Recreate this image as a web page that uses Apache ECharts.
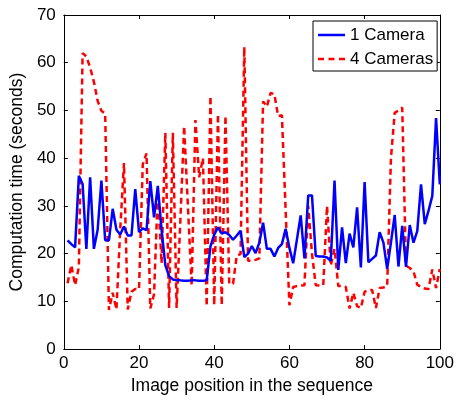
<!DOCTYPE html>
<html>
<head>
<meta charset="utf-8">
<script src="https://cdn.jsdelivr.net/npm/echarts@6/dist/echarts.min.js"></script>
<style>
  html, body { margin: 0; padding: 0; background: #fff; }
  #chart { width: 457px; height: 400px; }
</style>
</head>
<body>
<div id="chart"></div>
<script>
// image positions 1..100
const positions = Array.from({ length: 100 }, (_, i) => i + 1);

// computation time (s)
const oneCamera = [
  22.8, 22.0, 21.3, 36.3, 34.6, 21.0, 36.0, 21.0, 25.0, 35.3,
  22.8, 22.8, 29.4, 25.0, 24.0, 25.7, 23.8, 23.8, 33.5, 24.5,
  25.3, 24.9, 35.2, 27.6, 34.2, 25.0, 17.6, 15.3, 14.6, 14.4,
  14.4, 14.3, 14.3, 14.4, 14.4, 14.3, 14.3, 14.4, 21.5, 24.0,
  25.5, 24.2, 24.5, 23.9, 22.9, 23.8, 24.8, 19.3, 20.0, 21.6,
  20.1, 22.3, 26.5, 21.0, 21.0, 19.4, 21.2, 22.0, 25.2, 21.2,
  18.0, 23.0, 28.0, 19.0, 32.2, 32.2, 19.5, 19.4, 19.4, 19.2,
  18.5, 35.3, 16.6, 25.5, 18.0, 24.2, 21.3, 29.7, 17.1, 35.0,
  18.2, 18.9, 19.6, 24.5, 22.3, 16.8, 22.3, 28.1, 17.3, 25.8,
  17.2, 26.0, 22.3, 24.7, 34.5, 26.2, 29.0, 32.1, 48.4, 34.5
];

const fourCameras = [
  13.8, 17.6, 13.4, 17.2, 62.0, 61.3, 59.0, 56.0, 52.0, 49.9,
  49.4,  8.2, 11.8,  8.3, 25.0, 39.0,  8.3, 12.0, 12.6, 12.5,
  38.7, 41.0,  8.5, 11.5, 33.0, 18.0, 45.3,  8.6, 45.3,  8.6,
  27.0, 46.7, 30.0, 13.3, 48.0, 36.0, 40.0,  9.0, 53.0,  9.2,
  49.2,  9.2, 48.9, 13.7, 13.7, 19.6, 19.9, 63.3, 18.5, 18.5,
  18.7, 19.0, 51.9, 50.8, 53.7, 53.4, 48.8, 49.0, 29.0,  9.2,
  13.0, 13.2, 13.3, 13.4, 30.0, 20.0, 13.4, 13.3, 13.4, 30.0,
  17.5, 21.0, 13.2, 13.2, 13.0,  8.5, 11.8,  9.0,  8.6, 12.0,
  12.4, 12.4,  8.6, 12.8, 12.9, 13.2, 40.0, 49.5, 50.0, 50.6,
  17.5, 17.0, 16.3, 13.5, 13.0, 12.7, 12.6, 16.7, 12.8, 16.8
];

const xTicks = [0, 20, 40, 60, 80, 100];
const yTicks = [0, 10, 20, 30, 40, 50, 60, 70];

const FONT = 'Liberation Sans, Arial, sans-serif';
const chart = echarts.init(document.getElementById('chart'), null, { renderer: 'canvas' });

// legend swatches: plain line / three dashes (no marker)
const ICON_SOLID = 'path://M0,0h27v2.5h-27z';
const ICON_DASH = 'path://M0,0h6v2.5h-6zM10.5,0h6v2.5h-6zM21,0h6v2.5h-6z';

// matlab-like box: ticks inside on every side
function boxAxis(extra) {
    return Object.assign({
        type: 'value',
        axisLine: { show: true, onZero: false, lineStyle: { color: '#000', width: 1 } },
        axisTick: { show: true, inside: true, length: 4, lineStyle: { color: '#000' } },
        splitLine: { show: false }
    }, extra);
}

const xStep = xTicks[1] - xTicks[0];
const yStep = yTicks[1] - yTicks[0];

chart.setOption({
    animation: false,
    backgroundColor: '#fff',
    textStyle: { fontFamily: FONT },
    grid: { left: 55, right: 14, top: 15, bottom: 49, containLabel: false },
    legend: {
        orient: 'vertical',
        left: 313, top: 21,
        padding: [5, 4, 3, 5],
        itemWidth: 27, itemHeight: 3, itemGap: 6,
        backgroundColor: '#fff', borderColor: '#000', borderWidth: 1,
        textStyle: { fontSize: 17, color: '#000', fontFamily: FONT, lineHeight: 18 },
        data: [
            { name: '1 Camera', icon: ICON_SOLID, itemStyle: { color: '#0000ff', borderWidth: 0 } },
            { name: '4 Cameras', icon: ICON_DASH, itemStyle: { color: '#ff0000', borderWidth: 0 } }
        ]
    },
    xAxis: [
        boxAxis({
            position: 'bottom',
            min: xTicks[0], max: xTicks[xTicks.length - 1], interval: xStep,
            name: 'Image position in the sequence',
            nameLocation: 'middle', nameGap: 25,
            nameTextStyle: { fontSize: 17.5, color: '#000', fontFamily: FONT },
            axisLabel: { fontSize: 17, color: '#000', margin: 6, fontFamily: FONT }
        }),
        boxAxis({
            position: 'top',
            min: xTicks[0], max: xTicks[xTicks.length - 1], interval: xStep,
            axisLabel: { show: false }
        })
    ],
    yAxis: [
        boxAxis({
            position: 'left',
            min: yTicks[0], max: yTicks[yTicks.length - 1], interval: yStep,
            name: 'Computation time (seconds)',
            nameLocation: 'middle', nameGap: 27,
            nameTextStyle: { fontSize: 17.5, color: '#000', fontFamily: FONT },
            axisLabel: { fontSize: 17, color: '#000', margin: 8, fontFamily: FONT }
        }),
        boxAxis({
            position: 'right',
            min: yTicks[0], max: yTicks[yTicks.length - 1], interval: yStep,
            axisLabel: { show: false }
        })
    ],
    series: [
        {
            name: '1 Camera',
            type: 'line',
            symbol: 'none',
            data: positions.map((p, i) => [p, oneCamera[i]]),
            lineStyle: { color: '#0000ff', width: 2.5, type: 'solid' },
            itemStyle: { color: '#0000ff' },
            z: 3
        },
        {
            name: '4 Cameras',
            type: 'line',
            symbol: 'none',
            data: positions.map((p, i) => [p, fourCameras[i]]),
            lineStyle: { color: '#ff0000', width: 2.5, type: [6, 4] },
            itemStyle: { color: '#ff0000' },
            z: 2
        }
    ]
});
</script>
</body>
</html>
